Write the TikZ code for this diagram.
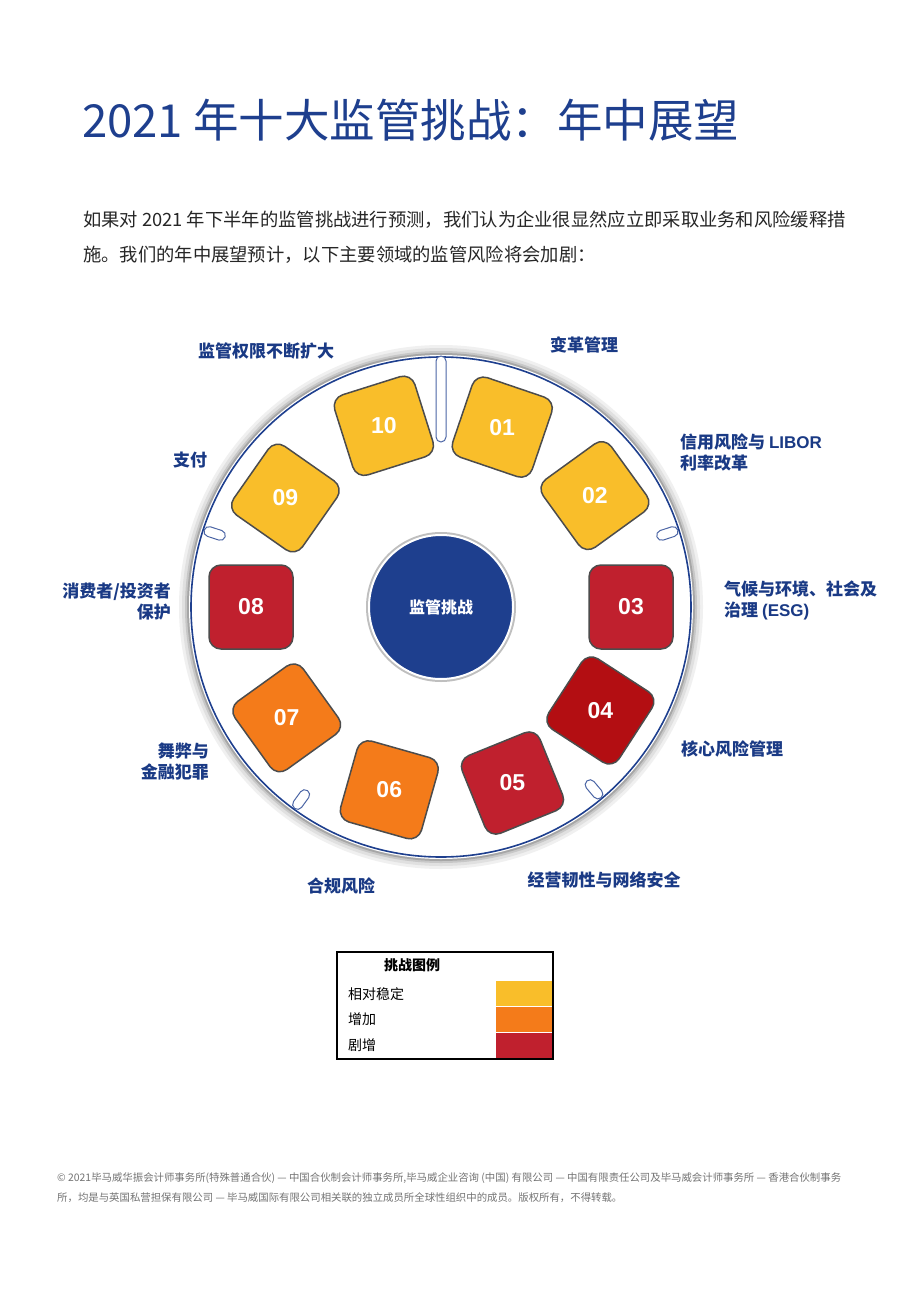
\documentclass[tikz,border=0pt]{standalone}
\usepackage{fontspec}
\usetikzlibrary{calc}
\setmainfont{Noto Sans CJK SC}
\newfontfamily\lat{Liberation Sans}
\definecolor{kblue}{HTML}{1E3F8E}
\definecolor{cyel}{HTML}{F9BE2A}
\definecolor{corg}{HTML}{F47B1A}
\definecolor{cred}{HTML}{C0202E}
\definecolor{cdred}{HTML}{B30E12}
\definecolor{ctxt}{HTML}{1A3A85}
\begin{document}
\begin{tikzpicture}[x=1pt,y=1pt,
 lab/.style={text=ctxt,font=\fontsize{17}{21}\selectfont\bfseries,inner sep=0pt},
 tile/.style={minimum size=84pt,rounded corners=12pt,draw=black!70,line width=1.5pt},
 tnum/.style={text=white,font=\lat\fontsize{23}{23}\selectfont\bfseries,inner sep=0pt},
 pill/.style={draw=kblue!80,fill=white,line width=1pt,rounded corners=5pt,minimum width=10pt,inner sep=0pt}]
\useasboundingbox (0,0) rectangle (920,-1305);
\fill[white] (0,0) rectangle (920,-1305);
\node[anchor=west,inner sep=0pt,text=kblue,font=\fontsize{45.5}{50}\selectfont] (title) at (82,-120) {2021 年十大监管挑战：年中展望};
\node[anchor=west,inner sep=0pt,text=black!85,font=\fontsize{18.3}{20}\selectfont] (p1) at (83,-220) {如果对 2021 年下半年的监管挑战进行预测，我们认为企业很显然应立即采取业务和风险缓释措};
\node[anchor=west,inner sep=0pt,text=black!85,font=\fontsize{18.3}{20}\selectfont] (p2) at (83,-255) {施。我们的年中展望预计，以下主要领域的监管风险将会加剧：};
\coordinate (c) at (441,-607);
% ring shadow
\foreach \r/\g in {262/6,259/12,256/22,254/35}{\fill[black!\g] (c) circle (\r);}
\fill[white] (c) circle (252);
\draw[kblue,line width=1.6pt] (c) circle (250);
% pills
\node[pill,minimum height=86pt] (pt) at (441,-399) {};
\foreach \a [count=\i] in {162,18,-126,-50}{\node[pill,minimum height=22pt,rotate=\a-90] (p\i) at ($(c)+(\a:238)$) {};}
% center
\fill[black!25] (c) circle (75);
\node[circle,fill=kblue,draw=white,line width=2pt,minimum size=144pt,text=white,font=\fontsize{16}{20}\selectfont\bfseries] (ctr) at (c) {监管挑战};
% tiles
\foreach \n/\a/\col in {10/107.5/cyel,01/71.2/cyel,02/35.9/cyel,03/0/cred,04/-33/cdred,05/-67.9/cred,06/-105.8/corg,07/-144.3/corg,08/180/cred,09/145/cyel}{
 \node[tile,fill=\col,rotate=\a] (t\n) at ($(c)+(\a:190)$) {};
 \node[tnum] (n\n) at (t\n.center) {\n};}
% labels
\node[lab] (l10) at (266,-351) {监管权限不断扩大};
\node[lab] (l01) at (584,-345) {变革管理};
\node[lab,anchor=west,align=left] (l02) at (680,-452) {信用风险与 {\lat LIBOR}\\利率改革};
\node[lab] (l09) at (190,-460) {支付};
\node[lab,anchor=east,align=right] (l08) at (171,-602) {消费者/投资者\\保护};
\node[lab,anchor=west,align=left] (l03) at (724,-600) {气候与环境、社会及\\治理 {\lat (ESG)}};
\node[lab,anchor=west] (l04) at (681,-749) {核心风险管理};
\node[lab,anchor=east,align=right] (l07) at (209,-762) {舞弊与\\金融犯罪};
\node[lab] (l06) at (341,-886) {合规风险};
\node[lab] (l05) at (604,-880) {经营韧性与网络安全};
% legend
\fill[cyel] (496,-981) rectangle (553,-1006);
\fill[corg] (496,-1007) rectangle (553,-1032);
\fill[cred] (496,-1033) rectangle (553,-1059);
\draw[black,line width=1.2pt] (337,-952) rectangle (553,-1059);
\node[inner sep=0pt,font=\fontsize{14}{16}\selectfont\bfseries] (lh) at (412,-965) {挑战图例};
\node[anchor=west,inner sep=0pt,font=\fontsize{14}{16}\selectfont] (la) at (348,-994) {相对稳定};
\node[anchor=west,inner sep=0pt,font=\fontsize{14}{16}\selectfont] (lb) at (348,-1019) {增加};
\node[anchor=west,inner sep=0pt,font=\fontsize{14}{16}\selectfont] (lc) at (348,-1045) {剧增};
% footer
\node[anchor=west,inner sep=0pt,text=black!55,font=\fontsize{10.4}{11}\selectfont] (f1) at (57,-1178) {© 2021毕马威华振会计师事务所(特殊普通合伙) — 中国合伙制会计师事务所,毕马威企业咨询 (中国) 有限公司 — 中国有限责任公司及毕马威会计师事务所 — 香港合伙制事务};
\node[anchor=west,inner sep=0pt,text=black!55,font=\fontsize{10.4}{11}\selectfont] (f2) at (57,-1198) {所，均是与英国私营担保有限公司 — 毕马威国际有限公司相关联的独立成员所全球性组织中的成员。版权所有，不得转载。};
\end{tikzpicture}
\end{document}
